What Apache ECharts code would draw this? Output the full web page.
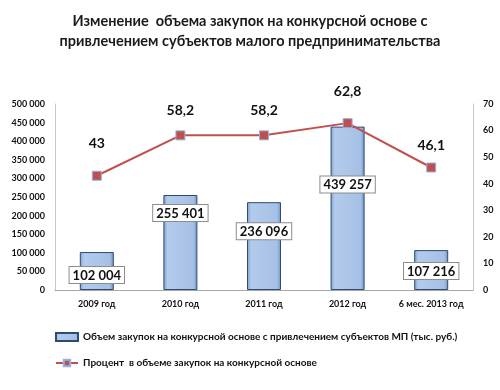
<!DOCTYPE html>
<html><head><meta charset="utf-8">
<script src="https://cdn.jsdelivr.net/npm/echarts@6/dist/echarts.min.js"></script>
<style>html,body{margin:0;padding:0;background:#fff}#c{width:500px;height:390px}</style>
</head><body><div id="c"></div>
<script>
const categories = ['2009 год','2010 год','2011 год','2012 год','6 мес. 2013 год'];
const volumes = [102004, 255401, 236096, 439257, 107216];
const percents = [43, 58.2, 58.2, 62.8, 46.1];
const leftTicks = [0,50000,100000,150000,200000,250000,300000,350000,400000,450000,500000];
const rightTicks = [0,10,20,30,40,50,60,70];
const barName = 'Объем закупок на конкурсной основе с привлечением субъектов МП (тыс. руб.)';
const lineName = 'Процент  в объеме закупок на конкурсной основе';
const titleText = 'Изменение  объема закупок на конкурсной основе с\nпривлечением субъектов малого предпринимательства';

const barLabelOffsets = [10, 5, 16, 45, 8];
const lineLabelDistances = [20, 13, 13, 20, 10];
const fmt = v => String(v).replace(/\B(?=(\d{3})+(?!\d))/g, ' ');
const FONT = 'Lato, "Liberation Sans", Arial, sans-serif';

const chart = echarts.init(document.getElementById('c'));
chart.setOption({
  animation: false,
  title: {text: titleText, left: 'center', top: 6,
    textStyle: {fontFamily: FONT, fontSize: 14.5, fontWeight: 'bold', color: '#1a1a1a', lineHeight: 20}},
  grid: {left: 55, right: 27, top: 104, bottom: 100},
  legend: {orient: 'vertical', left: 50, top: 327, itemGap: 16, itemWidth: 22, itemHeight: 8,
    textStyle: {fontFamily: FONT, fontSize: 10, fontWeight: 'bold', color: '#111'},
    data: [{name: barName, icon: 'rect'}, {name: lineName}]},
  xAxis: {type: 'category', data: categories,
    axisLine: {lineStyle: {color: '#a6a6a6'}}, axisTick: {show: false},
    axisLabel: {interval: 0, fontFamily: FONT, fontSize: 9, fontWeight: 'bold', color: '#111', margin: 10}},
  yAxis: [
    {type: 'value', min: 0, max: 500000, interval: 50000,
     axisLine: {show: true, lineStyle: {color: '#c8c8c8'}}, axisTick: {show: false}, splitLine: {show: false},
     axisLabel: {fontFamily: FONT, fontSize: 9, fontWeight: 'bold', color: '#111', margin: 10,
       formatter: v => leftTicks.includes(v) ? fmt(v) : ''}},
    {type: 'value', min: 0, max: 70, interval: 10, position: 'right',
     axisLine: {show: true, lineStyle: {color: '#c8c8c8'}}, axisTick: {show: false}, splitLine: {show: false},
     axisLabel: {fontFamily: FONT, fontSize: 9, fontWeight: 'bold', color: '#111', margin: 10,
       formatter: v => rightTicks.includes(v) ? String(v) : ''}}
  ],
  series: [
    {name: barName, type: 'bar', yAxisIndex: 0, barWidth: 34,
     itemStyle: {borderColor: '#2f4a73', borderWidth: 1,
       color: new echarts.graphic.LinearGradient(0,0,1,0,[
         {offset: 0, color: '#7f9fcc'},{offset: 0.12, color: '#b3cbeb'},
         {offset: 0.88, color: '#a6c0e6'},{offset: 1, color: '#7193c3'}])},
     data: volumes.map((v, i) => ({value: v, label: {offset: [0, barLabelOffsets[i]]}})),
     label: {show: true, position: 'insideTop', formatter: p => fmt(p.value),
       fontFamily: FONT, fontSize: 13, fontWeight: 'bold', color: '#111',
       backgroundColor: '#fff', borderColor: '#8c8c8c', borderWidth: 1, padding: [2, 3, 1, 3]}},
    {name: lineName, type: 'line', yAxisIndex: 1,
     data: percents.map((v, i) => ({value: v, label: {distance: lineLabelDistances[i]}})),
     lineStyle: {color: '#c0504d', width: 2}, symbol: 'rect', symbolSize: 9,
     itemStyle: {color: '#c0504d', borderColor: '#8eb4e3', borderWidth: 1},
     label: {show: true, position: 'top',
       formatter: p => String(p.value).replace('.', ','),
       fontFamily: FONT, fontSize: 14, fontWeight: 'bold', color: '#111'}}
  ]
});
</script></body></html>
